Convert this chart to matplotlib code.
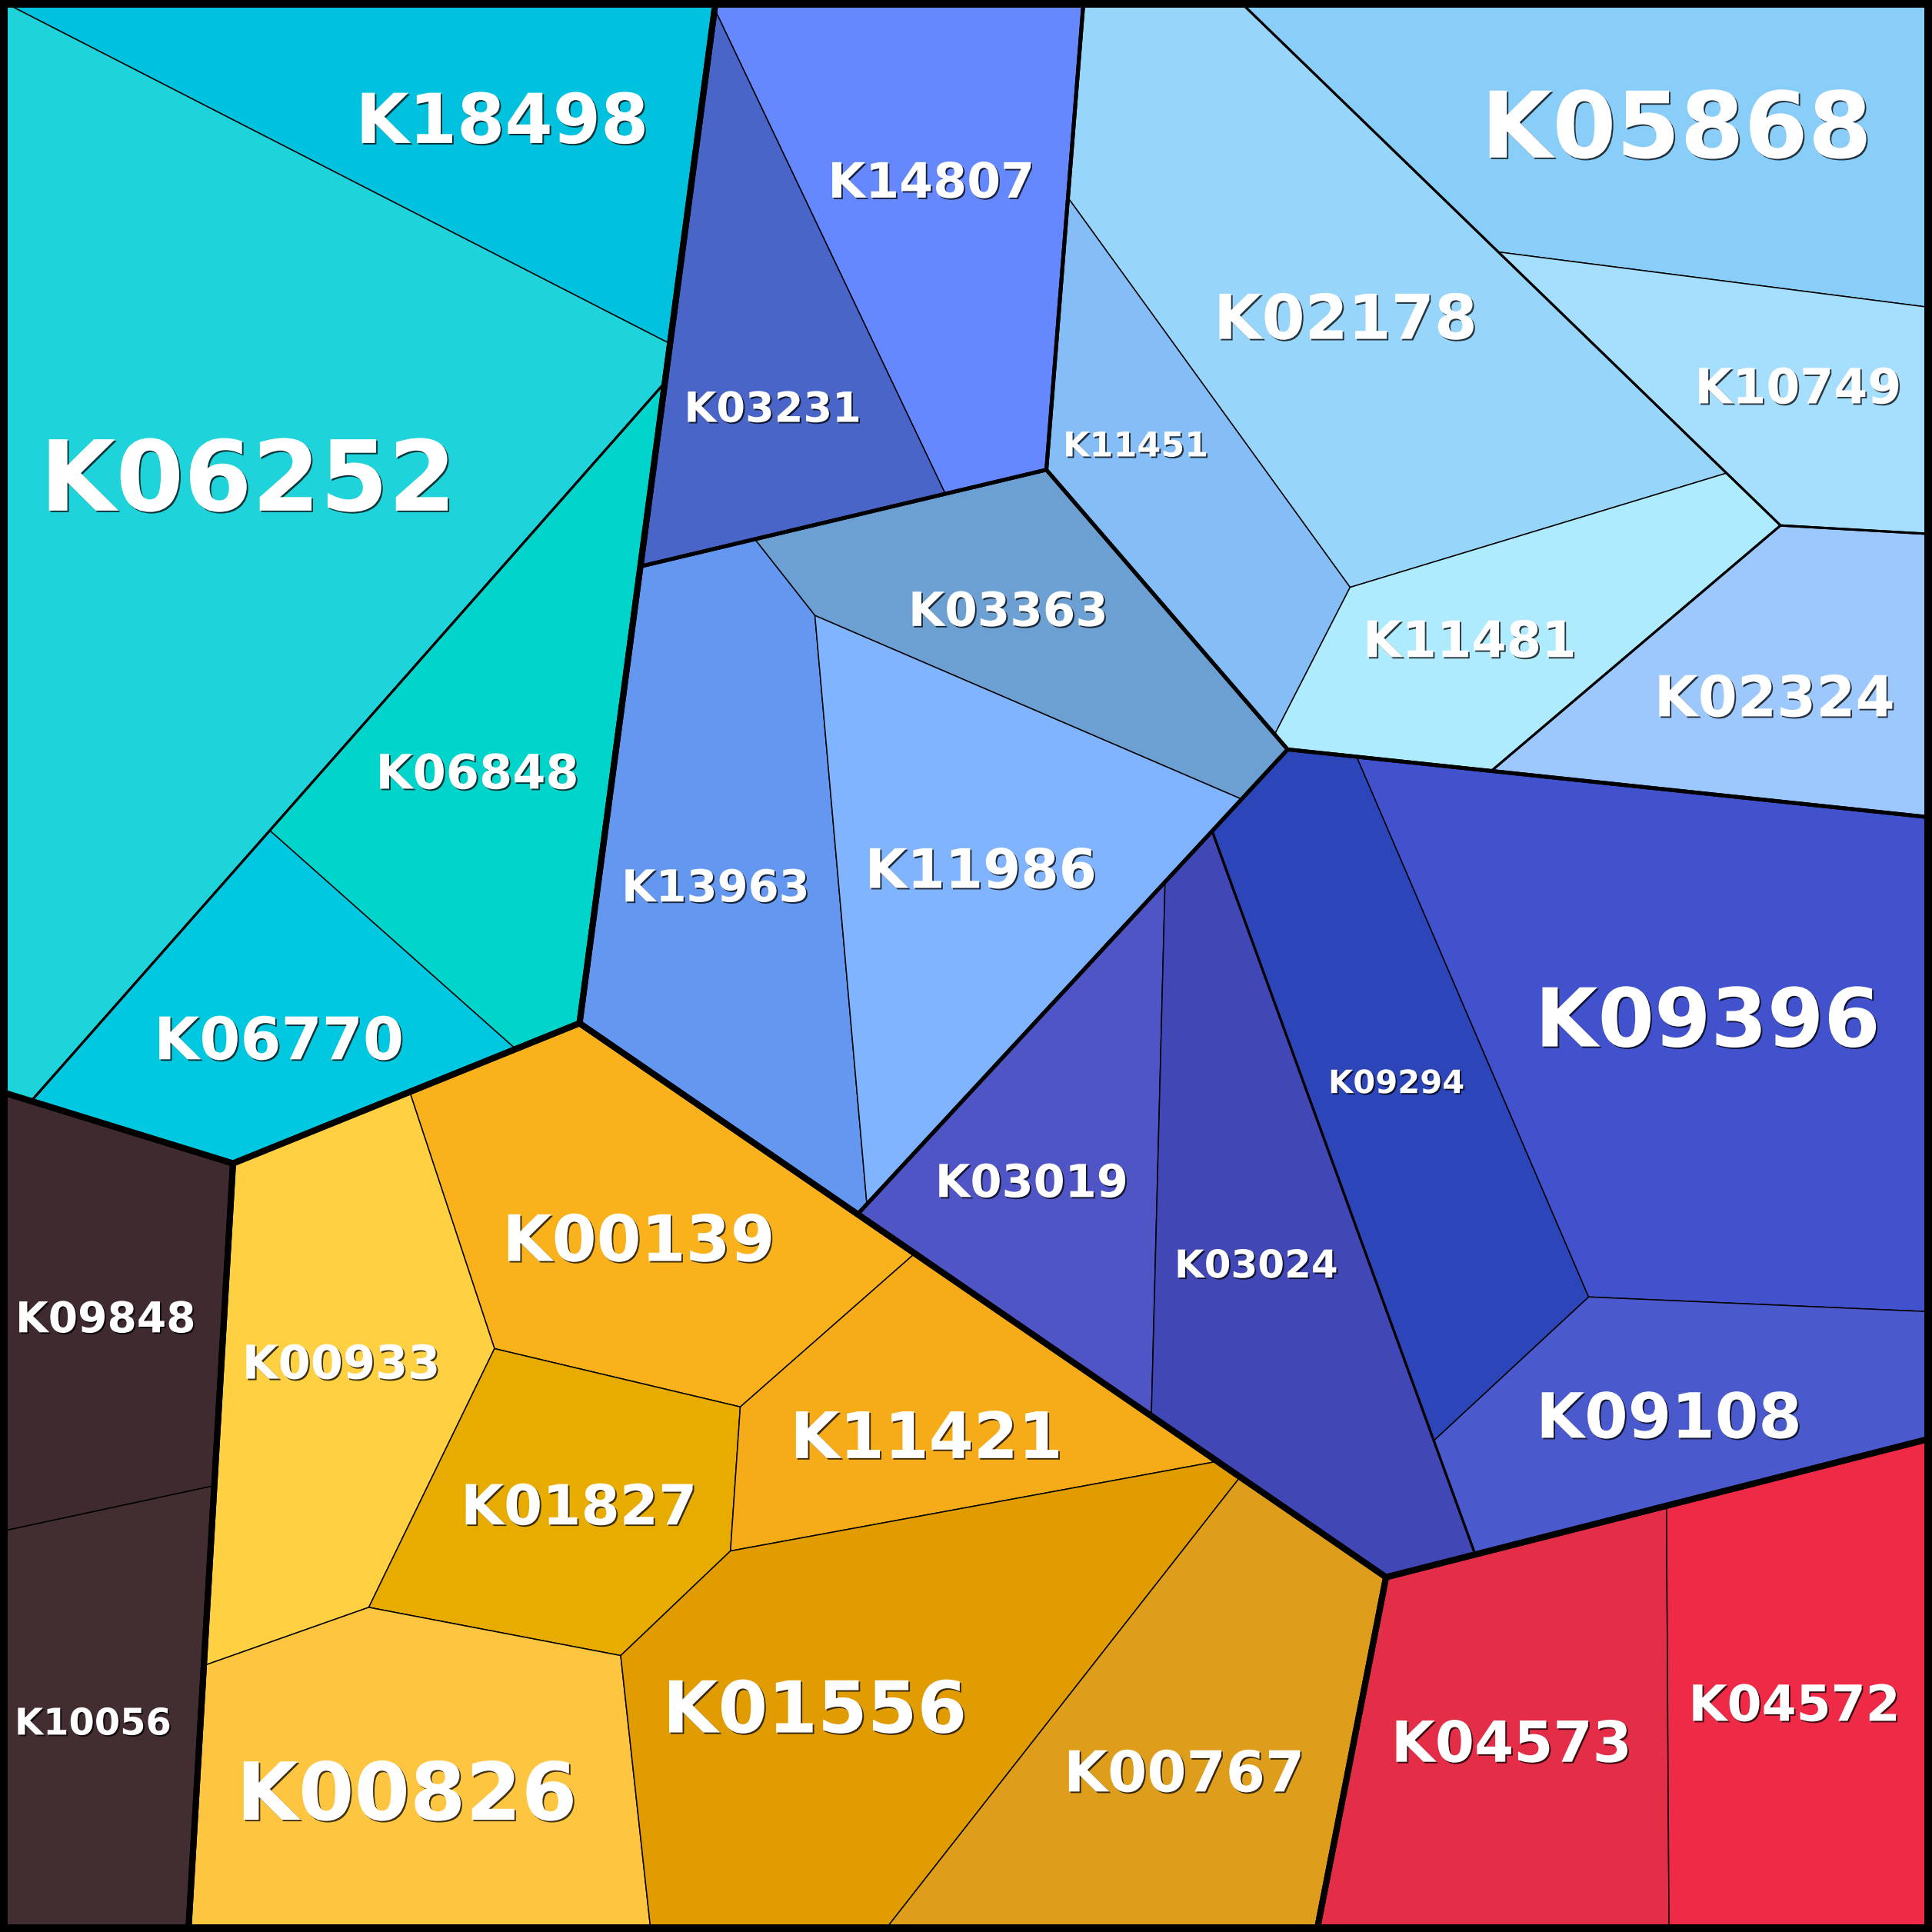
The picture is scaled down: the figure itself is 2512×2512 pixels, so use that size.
import numpy as np
import matplotlib
matplotlib.use("Agg")
import matplotlib.pyplot as plt
from matplotlib import patheffects as pe
from matplotlib.patches import Polygon

# ---- data -------------------------------------------------------------
kos = ["K18498", "K06252", "K06848", "K06770",
       "K09848", "K10056",
       "K00139", "K00933", "K01827", "K11421", "K00826", "K01556", "K00767",
       "K04573", "K04572",
       "K14807", "K03231",
       "K03363", "K13963", "K11986",
       "K05868", "K10749", "K02324", "K02178", "K11451", "K11481",
       "K03019", "K03024", "K09294", "K09396", "K09108"]

level1 = ["cyan"] * 4 + ["brown"] * 2 + ["orange"] * 7 + ["red"] * 2 + ["blue"] * 16
level2 = (["cyan"] * 4 + ["brown"] * 2 + ["orange"] * 7 + ["red"] * 2
          + ["blue1"] * 2 + ["blue2"] * 3 + ["light"] * 6 + ["indigo"] * 5)
level3 = (["cyanA", "cyanA", "cyanB", "cyanB"] + ["brown"] * 2 + ["orange"] * 7 + ["red"] * 2
          + ["blue1"] * 2 + ["blue2"] * 3
          + ["lightA", "lightA", "lightB", "lightC", "lightC", "lightC"]
          + ["indigoA", "indigoA", "indigoB", "indigoB", "indigoB"])

values = [79.9, 253.6, 76.3, 51.7,
          55.4, 55.1,
          73.3, 72.5, 50.0, 49.3, 84.8, 109.4, 83.0,
          79.4, 78.9,
          74.9, 53.4,
          50.6, 83.5, 78.4,
          100.0, 44.5, 53.4, 125.4, 45.0, 49.0,
          51.8, 78.5, 73.9, 151.3, 55.6]

# ---- style / layout ---------------------------------------------------
colors = ["#00C2DE", "#1FD3DB", "#00D4CB", "#00C8E0",
          "#3F2A30", "#422D30",
          "#F9B21C", "#FED042", "#E8AC00", "#F6AC18", "#FEC640", "#E09C00", "#DE9E1C",
          "#E42E48", "#EE2A46",
          "#6688FF", "#4865C7",
          "#6C9FD2", "#6498F0", "#80B4FF",
          "#89CDF9", "#A6DEFE", "#9CC8FE", "#97D6FA", "#85BEF6", "#AFEBFE",
          "#5055C6", "#4148B6", "#2C46B9", "#4252CC", "#4A5ACC"]

font_sizes = [64.5, 91.6, 44.7, 55.0,
              39.7, 34.5,
              60.0, 43.6, 52.0, 60.0, 75.0, 67.0, 53.0,
              53.0, 46.6,
              45.5, 39.0,
              44.0, 41.4, 51.0,
              86.0, 45.5, 53.0, 58.0, 32.0, 47.0,
              42.5, 36.0, 30.0, 76.0, 58.5]

# power-diagram sites (canvas units 0..1000, y downward)
site_x = [231.4, 126.4, 258.4, 139.5, 32.6, 75.2,
          324.3, 175.6, 298.5, 427.7, 262.7, 456.6, 552.4,
          783.8, 933.4, 492.4, 389.0, 544.0, 379.1, 492.4,
          895.5, 879.7, 917.7, 718.0, 603.9, 768.7,
          547.4, 660.3, 728.6, 876.5, 867.3]
site_y = [55.4, 260.3, 395.1, 528.9, 685.1, 883.4,
          635.9, 685.0, 744.7, 753.5, 931.8, 910.6, 985.7,
          892.3, 891.4, 117.8, 167.0, 323.4, 453.3, 443.3,
          71.3, 194.3, 353.5, 161.2, 243.8, 328.3,
          627.5, 630.4, 577.4, 513.9, 726.8]

group_names = ["cyan", "brown", "orange", "red", "blue",
               "cyanA", "cyanB", "blue1", "blue2", "light", "indigo",
               "lightA", "lightB", "lightC", "indigoA", "indigoB"]
group_site_x = [180.7, 27.2, 390.3, 835.4, 698.8,
                101.7, 255.8, 442.4, 505.5, 781.5, 734.0,
                881.9, 865.7, 744.3, 618.9, 832.3]
group_site_y = [288.4, 785.4, 806.5, 893.6, 357.4,
                261.0, 396.9, 144.0, 409.0, 170.9, 620.4,
                82.4, 367.4, 224.4, 644.4, 566.8]

# label anchor points (canvas units)
label_x = [259.9, 128.4, 247.1, 144.4, 54.6, 48.1,
           330.6, 176.5, 299.7, 479.5, 210.5, 421.7, 613.0,
           782.4, 928.8, 482.0, 399.9, 521.8, 370.4, 507.7,
           867.8, 930.7, 918.5, 696.4, 587.9, 760.6,
           534.0, 650.2, 722.7, 883.8, 863.9]
label_y = [61.0, 245.8, 399.2, 537.2, 681.6, 890.9,
           640.6, 704.8, 778.6, 742.6, 926.8, 883.2, 916.6,
           901.2, 881.3, 93.1, 210.5, 315.1, 458.3, 449.3,
           64.2, 199.6, 360.1, 163.7, 229.8, 330.6,
           611.0, 654.0, 559.7, 526.3, 732.4]

SIZE = 1000.0
FIG_PX = 2512
PX = 72.0 / 100.0  # points per pixel at dpi 100
LINE_PX = [8.0, 5.0, 3.0, 1.5]


def clip(poly, a, b):
    out = []
    n = len(poly)
    for k in range(n):
        p = poly[k]
        q = poly[(k + 1) % n]
        fp = a @ p + b
        fq = a @ q + b
        if fp >= 0:
            out.append(p)
        if (fp >= 0) != (fq >= 0):
            t = fp / (fp - fq)
            out.append(p + t * (q - p))
    return out


def polygon_area(poly):
    if len(poly) < 3:
        return 0.0
    pts = np.array(poly)
    x, y = pts[:, 0], pts[:, 1]
    return abs((x * np.roll(y, -1) - np.roll(x, -1) * y).sum()) / 2


def bisector(sites, weights, i, j):
    a = 2 * (sites[i] - sites[j])
    b = sites[j] @ sites[j] - sites[i] @ sites[i] - weights[j] + weights[i]
    return a, b


def power_cells(region, sites, weights):
    cells = []
    for i in range(len(sites)):
        poly = [np.array(p, float) for p in region]
        for j in range(len(sites)):
            if i == j:
                continue
            a, b = bisector(sites, weights, i, j)
            poly = clip(poly, a, b)
            if len(poly) < 3:
                poly = []
                break
        cells.append(poly)
    return cells


def shared_length(poly, a, b):
    na = np.linalg.norm(a)
    total = 0.0
    for k in range(len(poly)):
        p = poly[k]
        q = poly[(k + 1) % len(poly)]
        if abs(a @ p + b) / na < 1e-6 * SIZE and abs(a @ q + b) / na < 1e-6 * SIZE:
            total += np.linalg.norm(q - p)
    return total


def fit_weights(region, sites, targets):
    # newton iterations on the power weights until every cell has its target area
    n = len(sites)
    weights = np.zeros(n)
    cells = power_cells(region, sites, weights)
    areas = np.array([polygon_area(c) for c in cells])
    for _ in range(80):
        err = targets - areas
        if np.max(np.abs(err) / targets) < 1e-7:
            break
        hess = np.zeros((n, n))
        for i in range(n):
            for j in range(n):
                if i == j or not cells[i]:
                    continue
                a, b = bisector(sites, weights, i, j)
                c = shared_length(cells[i], a, b) / (2 * np.linalg.norm(sites[i] - sites[j]))
                hess[i, i] += c
                hess[i, j] -= c
        dw = np.linalg.lstsq(hess, err, rcond=None)[0]
        best = np.max(np.abs(err))
        t = 1.0
        for _ in range(30):
            w_new = weights + t * dw
            c_new = power_cells(region, sites, w_new)
            a_new = np.array([polygon_area(c) for c in c_new])
            if np.all(a_new > 0) and np.max(np.abs(targets - a_new)) < best:
                break
            t *= 0.5
        weights, cells, areas = w_new, c_new, a_new
    return cells


levels = [level1, level2, level3, kos]
vals = np.array(values)
leaf_sites = np.column_stack([site_x, site_y])
group_sites = {g: np.array([x, y]) for g, x, y in zip(group_names, group_site_x, group_site_y)}


def node_site(depth, key, members):
    if depth == 3:
        return leaf_sites[members[0]]
    if key in group_sites:
        return group_sites[key]
    return np.average(leaf_sites[members], axis=0, weights=vals[members])


def split(region, members, depth, out):
    keys = [levels[depth][m] for m in members]
    groups = list(dict.fromkeys(keys))
    children = [[m for m in members if levels[depth][m] == g] for g in groups]
    if len(groups) == 1:
        regions = [region]
    else:
        sites = np.array([node_site(depth, g, ch) for g, ch in zip(groups, children)])
        targets = np.array([vals[ch].sum() for ch in children]) / vals[members].sum() * polygon_area(region)
        regions = fit_weights(region, sites, targets)
    for ch, reg in zip(children, regions):
        out.append((depth, ch, reg))
        if depth < 3:
            split(reg, ch, depth + 1, out)


root = [np.array(p, float) for p in [(0, 0), (SIZE, 0), (SIZE, SIZE), (0, SIZE)]]
pieces = []
split(root, list(range(len(kos))), 0, pieces)

fig = plt.figure(figsize=(FIG_PX / 100, FIG_PX / 100), dpi=100)
ax = fig.add_axes([0, 0, 1, 1])
ax.set_xlim(0, SIZE)
ax.set_ylim(SIZE, 0)
ax.set_axis_off()

shadow = [pe.withSimplePatchShadow(offset=(1.4, -1.4), shadow_rgbFace="black", alpha=0.75)]

for depth, members, reg in pieces:
    if depth == 3:
        idx = members[0]
        ax.add_patch(Polygon(np.array(reg), closed=True, facecolor=colors[idx],
                             edgecolor="black", linewidth=LINE_PX[3] * PX, zorder=1))

for d in (2, 1, 0):
    for depth, members, reg in pieces:
        if depth == d:
            ax.add_patch(Polygon(np.array(reg), closed=True, facecolor="none",
                                 edgecolor="black", linewidth=LINE_PX[d] * PX, zorder=2 + (2 - d)))

ax.add_patch(Polygon(np.array(root), closed=True, facecolor="none", edgecolor="black",
                     linewidth=20 * PX, zorder=6))

for i, name in enumerate(kos):
    # put the middle of the digits on the anchor point
    shift = 0.365 * font_sizes[i] * (100 / 72) * SIZE / FIG_PX
    ax.text(label_x[i], label_y[i] + shift, name, ha="center", va="baseline",
            fontsize=font_sizes[i], fontweight="bold", color="white",
            path_effects=shadow, zorder=10)

fig.savefig("out.png", dpi=100)
